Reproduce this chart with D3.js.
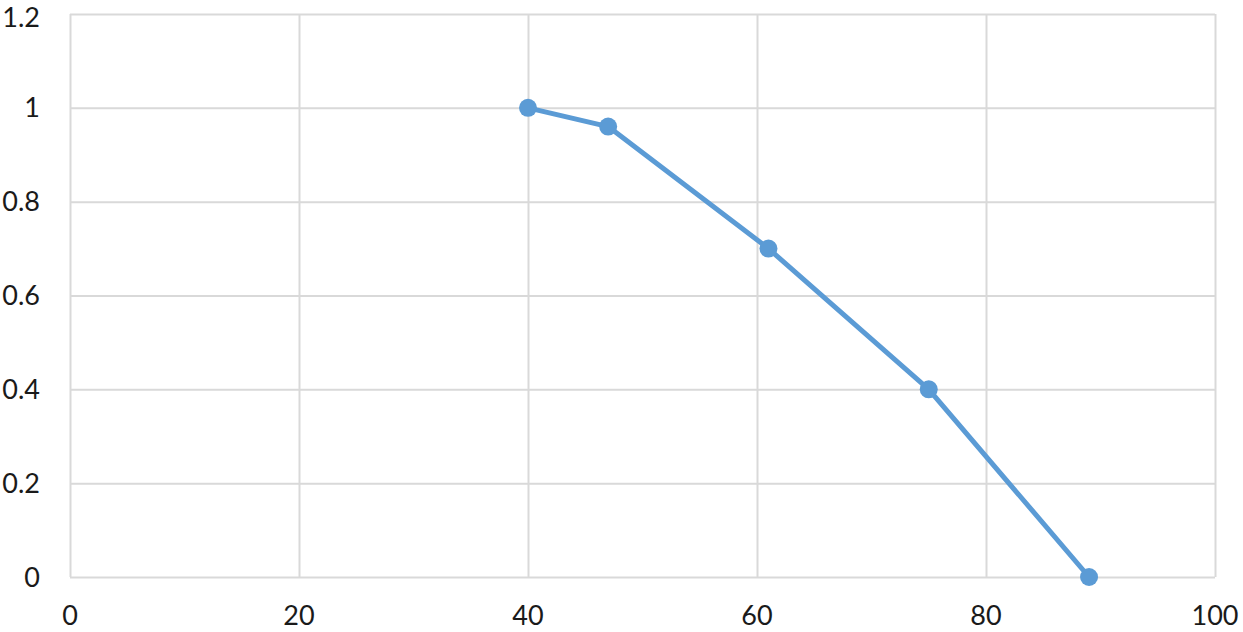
<!DOCTYPE html>
<html>
<head>
<meta charset="utf-8">
<script src="https://cdn.jsdelivr.net/npm/d3@7"></script>
<style>
  body { margin: 0; background: #fff; }
  svg { display: block; }
</style>
</head>
<body>
<div id="chart"></div>
<script>
// data
var xValues = [40, 47, 61, 75, 89];
var yValues = [1, 0.96, 0.7, 0.4, 0];
var xTicks = [0, 20, 40, 60, 80, 100];
var yTicks = [0, 0.2, 0.4, 0.6, 0.8, 1, 1.2];

var width = 1243, height = 632;
var margin = {top: 14, right: 28, bottom: 55, left: 70};

var svg = d3.select("#chart")
  .append("svg")
  .attr("width", width)
  .attr("height", height);

var x = d3.scaleLinear()
  .domain([0, 100])
  .range([margin.left, width - margin.right]);

var y = d3.scaleLinear()
  .domain([0, 1.2])
  .range([height - margin.bottom, margin.top]);

// vertical grid
svg.append("g")
  .attr("transform", "translate(0," + (height - margin.bottom) + ")")
  .call(d3.axisBottom(x).tickValues(xTicks).tickSize(-(height - margin.bottom - margin.top)).tickFormat(""))
  .call(function(g) { g.select(".domain").remove(); })
  .selectAll("line").attr("stroke", "#d9d9d9").attr("stroke-width", 2);

// horizontal grid
svg.append("g")
  .attr("transform", "translate(" + margin.left + ",0)")
  .call(d3.axisLeft(y).tickValues(yTicks).tickSize(-(width - margin.left - margin.right)).tickFormat(""))
  .call(function(g) { g.select(".domain").remove(); })
  .selectAll("line").attr("stroke", "#d9d9d9").attr("stroke-width", 2);

// y labels (top one nudged so it stays inside the page)
svg.append("g")
  .selectAll("text")
  .data(yTicks)
  .enter()
  .append("text")
  .attr("x", 40)
  .attr("y", function(d) { return Math.max(y(d) + 9.5, 27); })
  .attr("text-anchor", "end")
  .style("font-family", "Lato, 'Open Sans', sans-serif")
  .style("font-size", "27px")
  .style("fill", "#1a1a1a")
  .text(function(d) { return d3.format("~g")(d); });

// x labels
svg.append("g")
  .selectAll("text")
  .data(xTicks)
  .enter()
  .append("text")
  .attr("x", function(d) { return x(d); })
  .attr("y", 625)
  .attr("text-anchor", "middle")
  .style("font-family", "Lato, 'Open Sans', sans-serif")
  .style("font-size", "27px")
  .style("fill", "#1a1a1a")
  .text(function(d) { return d; });

var points = xValues.map(function(v, i) { return [v, yValues[i]]; });

var line = d3.line()
  .x(function(d) { return x(d[0]); })
  .y(function(d) { return y(d[1]); });

svg.append("path")
  .datum(points)
  .attr("d", line)
  .attr("fill", "none")
  .attr("stroke", "#5b9bd5")
  .attr("stroke-width", 5)
  .attr("stroke-linejoin", "round");

svg.append("g")
  .selectAll("circle")
  .data(points)
  .enter()
  .append("circle")
  .attr("cx", function(d) { return x(d[0]); })
  .attr("cy", function(d) { return y(d[1]); })
  .attr("r", 9)
  .attr("fill", "#5b9bd5");
</script>
</body>
</html>
